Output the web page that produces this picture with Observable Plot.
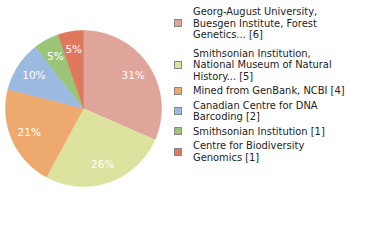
<!DOCTYPE html>
<html>
<head>
<meta charset="utf-8">
<script src="https://cdn.jsdelivr.net/npm/d3@7"></script>
<script src="https://cdn.jsdelivr.net/npm/@observablehq/plot@0.6"></script>
<style>
  html, body { margin: 0; padding: 0; background: #fff; }
  #wrap { position: relative; width: 380px; height: 240px; overflow: hidden; }
  #legend { position: absolute; left: 174px; top: 6px; font-family: "DejaVu Sans Condensed", "DejaVu Sans", sans-serif; font-stretch: condensed; font-size: 11px; line-height: 11.5px; color: #222; }
  .item { display: flex; align-items: center; margin-bottom: 3px; }
  .item:first-child { margin-bottom: 7px; }
  .sw { width: 6px; height: 6px; border: 1px solid #888; margin-right: 11px; flex: none; }
  .txt { white-space: pre; }
</style>
</head>
<body>
<div id="wrap"><div id="legend"></div></div>
<script>
const names = [
  "Georg-August University,\nBuesgen Institute, Forest\nGenetics... [6]",
  "Smithsonian Institution,\nNational Museum of Natural\nHistory... [5]",
  "Mined from GenBank, NCBI [4]",
  "Canadian Centre for DNA\nBarcoding [2]",
  "Smithsonian Institution [1]",
  "Centre for Biodiversity\nGenomics [1]"
];
const counts = [6, 5, 4, 2, 1, 1];
const colors = ["#dfa59b", "#dde39f", "#eeaa6e", "#9cb9df", "#9bc476", "#df785d"];

const W = 380, H = 240, cx = 83, cy = 108, R = 78;
const total = d3.sum(counts);
const pie = d3.pie().sort(null).value(d => d)(counts);

// slice polygons in unit-radius data space (angle from top, clockwise)
const poly = [];
pie.forEach((p, i) => {
  const n = Math.max(4, Math.ceil((p.endAngle - p.startAngle) / 0.02));
  poly.push({k: i, x: 0, y: 0});
  for (let j = 0; j <= n; j++) {
    const a = p.startAngle + (p.endAngle - p.startAngle) * j / n;
    poly.push({k: i, x: Math.sin(a), y: Math.cos(a)});
  }
  poly.push({k: i, x: 0, y: 0});
});
const lbl = pie.map((p, i) => {
  const a = (p.startAngle + p.endAngle) / 2;
  return {x: 0.76 * Math.sin(a), y: 0.76 * Math.cos(a), t: Math.floor(counts[i] / total * 100) + "%"};
});

const chart = Plot.plot({
  width: W, height: H,
  margin: 0,
  x: {domain: [-cx / R, (W - cx) / R], axis: null},
  y: {domain: [-(H - cy) / R, cy / R], axis: null},
  color: {domain: d3.range(names.length), range: colors},
  marks: [
    Plot.line(poly, {x: "x", y: "y", z: "k", fill: "k", stroke: "k", strokeWidth: 0.5, curve: "linear"}),
    Plot.text(lbl, {x: "x", y: "y", text: "t", fill: "white", fontSize: 10.5, fontFamily: "DejaVu Sans", letterSpacing: "0.6px"})
  ],
  style: {background: "white"}
});
document.getElementById("wrap").prepend(chart);

const leg = d3.select("#legend");
names.forEach((n, i) => {
  const it = leg.append("div").attr("class", "item");
  it.append("div").attr("class", "sw").style("background", colors[i]);
  it.append("div").attr("class", "txt").text(n);
});
</script>
</body>
</html>
